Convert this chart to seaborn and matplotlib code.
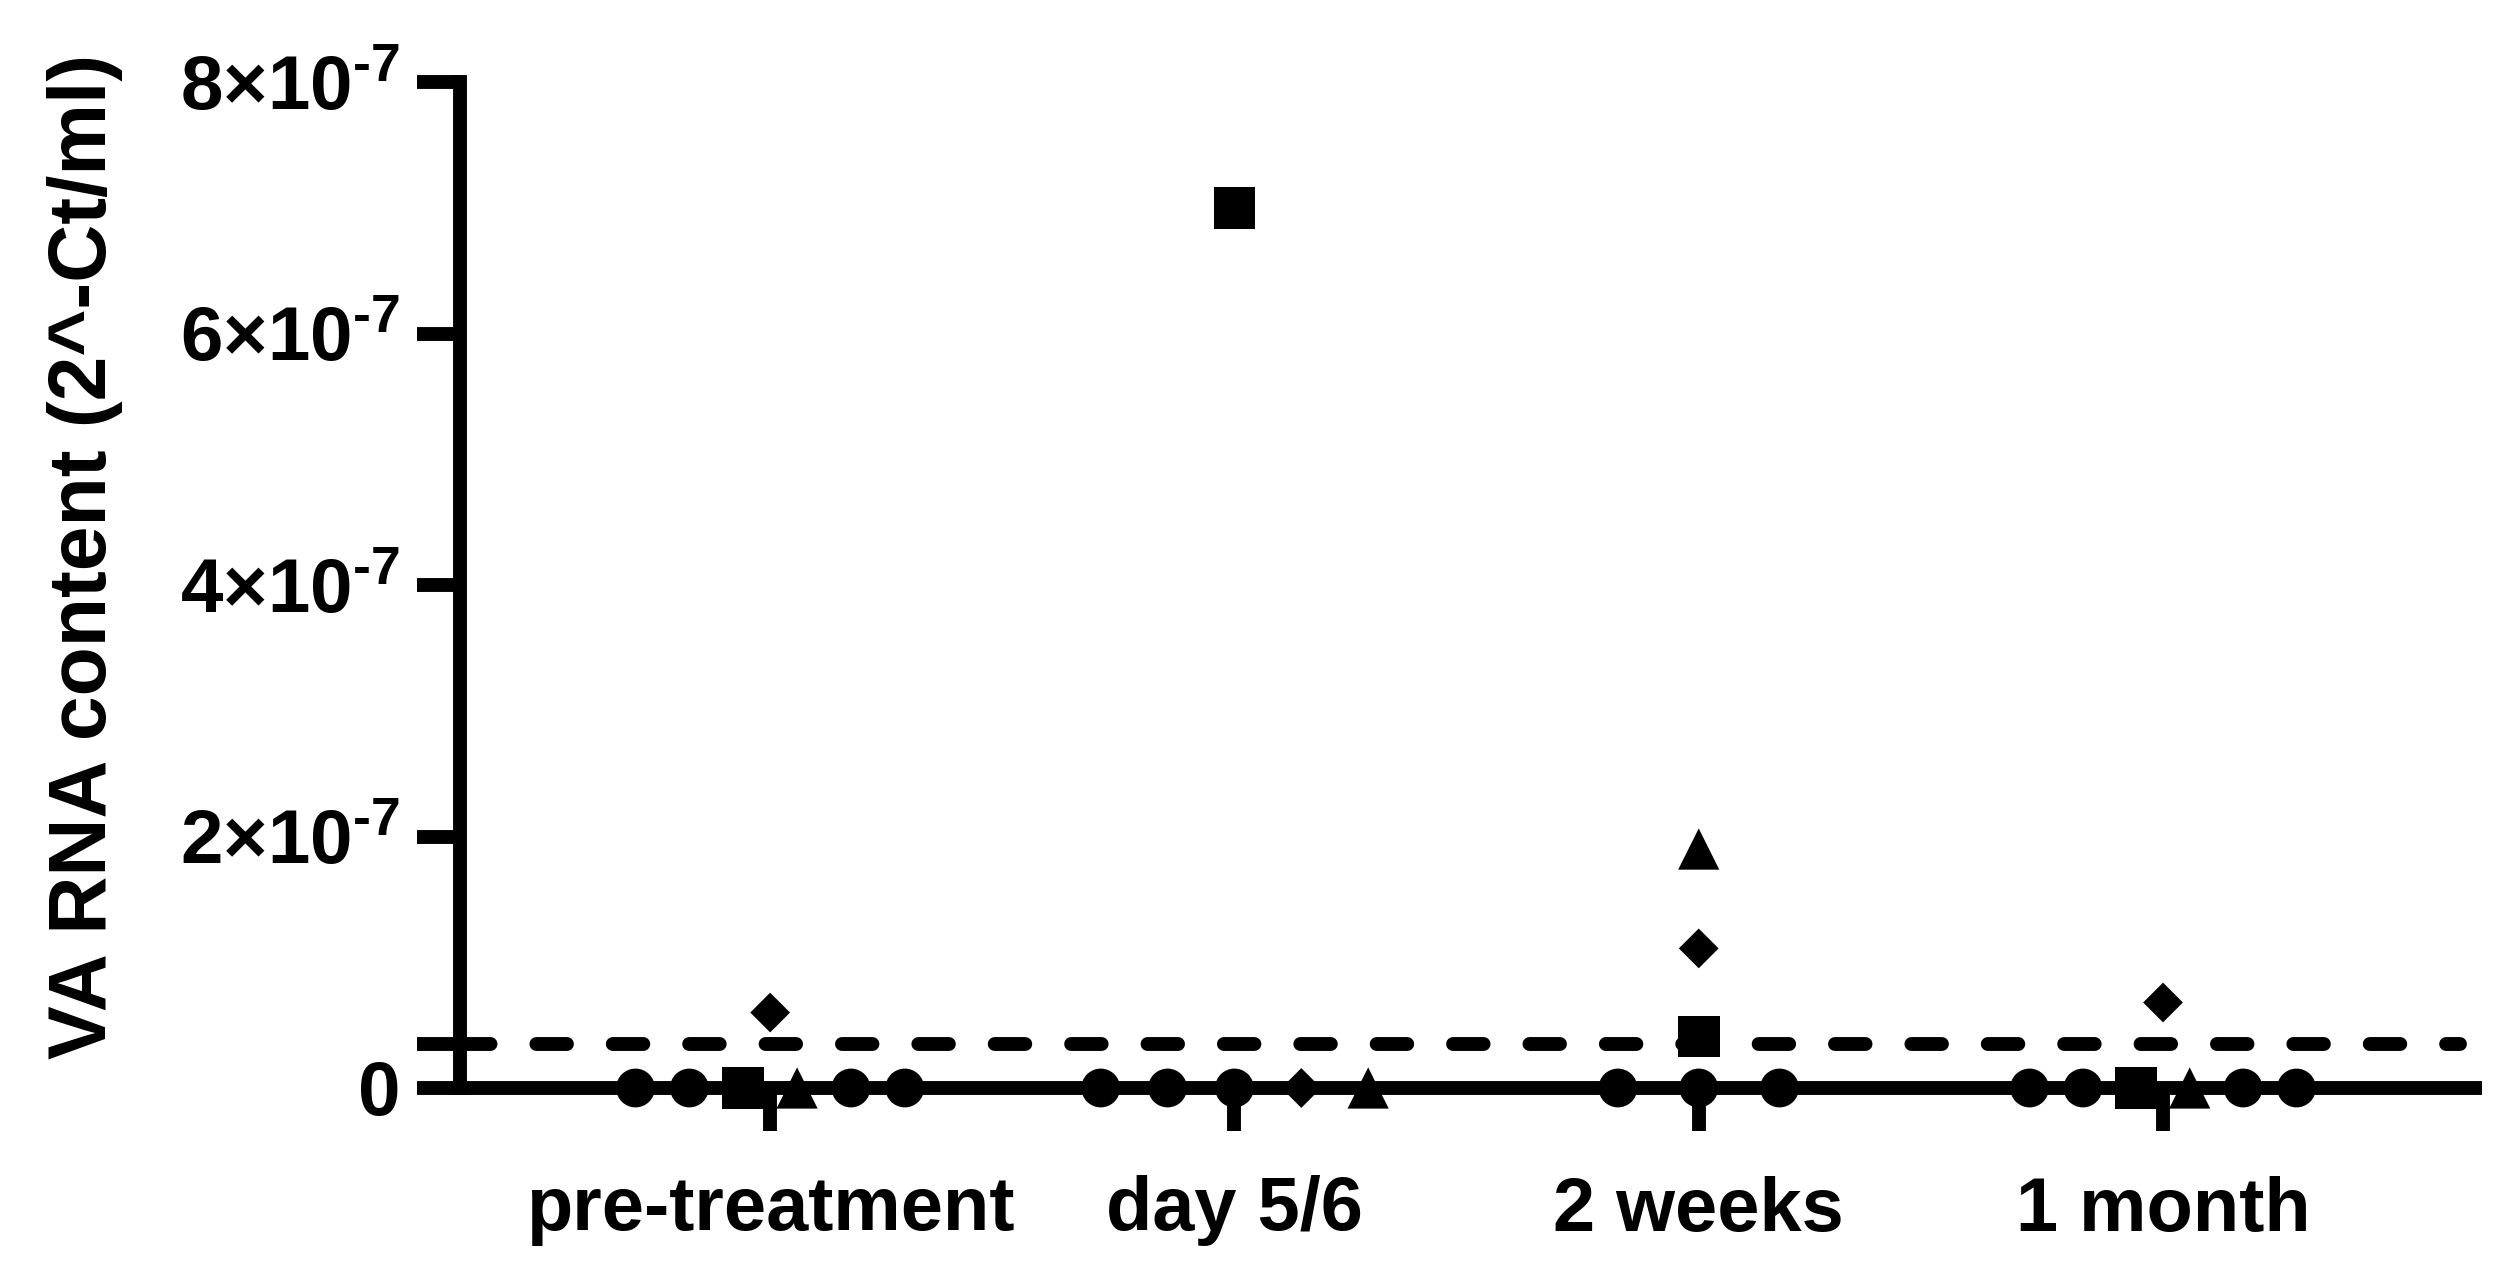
import matplotlib
matplotlib.use("Agg")
import matplotlib.pyplot as plt
import seaborn as sns
import numpy as np
import pandas as pd

# time points on the x axis
timepoints = ["pre-treatment", "day 5/6", "2 weeks", "1 month"]

# one entry per measured sample (left-to-right order within each time point)
point_time = (["pre-treatment"] * 7 + ["day 5/6"] * 6 +
              ["2 weeks"] * 6 + ["1 month"] * 7)
point_shape = ["circle", "circle", "square", "triangle", "circle", "circle", "diamond",
               "circle", "circle", "circle", "diamond", "triangle", "square",
               "circle", "circle", "circle", "square", "diamond", "triangle",
               "circle", "circle", "square", "triangle", "circle", "circle", "diamond"]
point_value = [0, 0, 0, 0, 0, 0, 6.0e-8,
               0, 0, 0, 0, 0, 7.0e-7,
               0, 0, 0, 4.1e-8, 1.11e-7, 1.9e-7,
               0, 0, 0, 0, 0, 0, 6.8e-8]

# detection limit (dashed line)
detection_limit = 3.5e-8

yticks = [0, 2e-7, 4e-7, 6e-7, 8e-7]

# layout: horizontal spread of points sitting on the baseline
spread_step = [0.116, 0.144, 0.174, 0.115]
baseline_cutoff = 2.5e-8

sns.set_theme(style="ticks")
plt.rcParams["font.family"] = ["Liberation Sans", "DejaVu Sans"]
plt.rcParams["font.weight"] = "bold"
plt.rcParams["mathtext.fontset"] = "custom"
plt.rcParams["mathtext.rm"] = "Liberation Sans:bold"
plt.rcParams["mathtext.bf"] = "Liberation Sans:bold"
plt.rcParams["mathtext.it"] = "Liberation Sans:bold"
plt.rcParams["mathtext.default"] = "rm"

df = pd.DataFrame({"time": point_time, "shape": point_shape, "value": point_value})

# spread the points lying on the baseline, elevated ones stay centred
xpos = np.zeros(len(df))
for i, t in enumerate(timepoints):
    idx = df.index[(df["time"] == t) & (df["value"] < baseline_cutoff)]
    n = len(idx)
    offs = (np.arange(n) - (n - 1) / 2) * spread_step[i]
    xpos[idx] = i + offs
    high = df.index[(df["time"] == t) & (df["value"] >= baseline_cutoff)]
    xpos[high] = i
df["x"] = xpos

fig = plt.figure(figsize=(25.15, 12.88), dpi=100)
ax = fig.add_axes([460 / 2515, 200 / 1288, 2022 / 2515, 1006 / 1288])

lw = 10
ax.axhline(detection_limit, xmin=0, xmax=0.989, color="black", lw=lw,
           linestyle=(0, (2.2, 3.3)), dash_capstyle="round", zorder=2)

sns.scatterplot(data=df, x="x", y="value", style="shape", size="shape",
                markers={"circle": "o", "square": "s", "triangle": "^", "diamond": "D"},
                sizes={"circle": 780, "square": 900, "triangle": 880, "diamond": 410},
                color="black", linewidth=0, legend=False, clip_on=False,
                zorder=3, ax=ax)

ax.set_xlim(-0.668, 3.687)
ax.set_ylim(0, 8e-7)
ax.set_xticks(range(len(timepoints)))
ax.set_xticklabels(timepoints)
ax.set_yticks(yticks)
ylabels = ["0"] + [r"$%d{\times}10^{\text{-}7}$" % round(v * 1e7) for v in yticks[1:]]
ax.set_yticklabels(ylabels)
ax.set_yticks([detection_limit], minor=True)

for side in ["top", "right"]:
    ax.spines[side].set_visible(False)
for side in ["left", "bottom"]:
    ax.spines[side].set_linewidth(lw)
    ax.spines[side].set_color("black")
ax.spines["left"].set_capstyle("projecting")
ax.spines["bottom"].set_capstyle("butt")

ax.tick_params(axis="both", which="both", length=31, width=lw, color="black",
               labelcolor="black")
ax.tick_params(axis="x", labelsize=54.5, pad=32)
ax.tick_params(axis="y", labelsize=55, pad=12)
for lab in ax.get_xticklabels() + ax.get_yticklabels():
    lab.set_fontweight("bold")

ax.set_xlabel("")
ax.set_ylabel("VA RNA content (2^-Ct/ml)", fontsize=58, fontweight="bold", color="black")
ax.yaxis.label.set_va("center")
ax.yaxis.set_label_coords(-0.1855, 0.528)

fig.savefig("out.png", dpi=100, facecolor="white")
